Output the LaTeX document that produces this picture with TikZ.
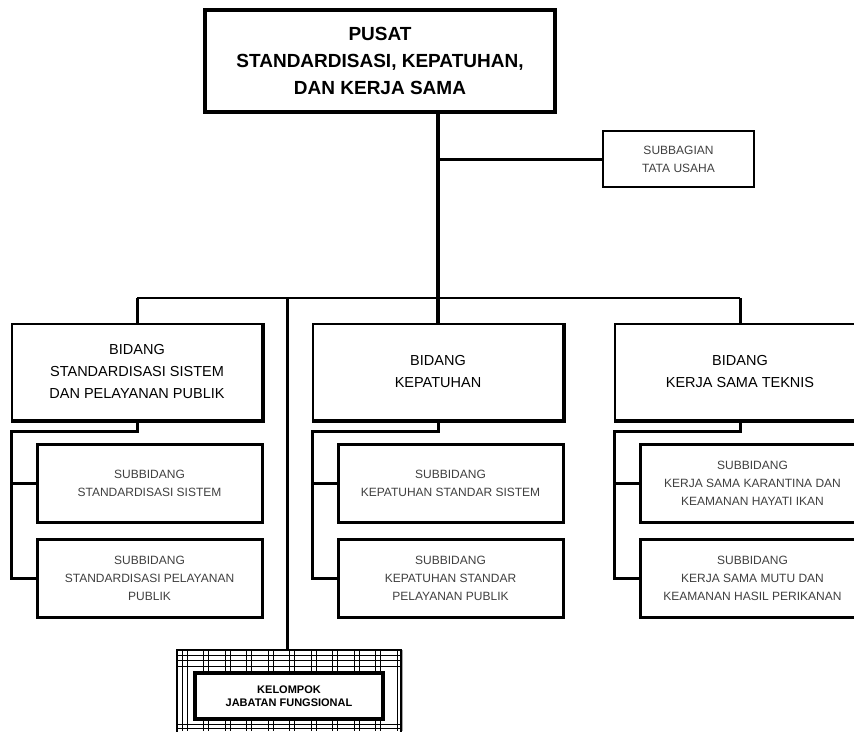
\documentclass[tikz,border=0pt]{standalone}
\usepackage{fontspec}
\setmainfont{Liberation Sans}
\usetikzlibrary{calc}

\begin{document}
\begin{tikzpicture}[
    x=1pt, y=-1pt,
    pusatbox/.style={draw, line width=3.5pt, fill=white, minimum width=350pt, minimum height=102pt, align=center, inner sep=0pt, font=\fontsize{19}{27}\selectfont\bfseries},
    bidangbox/.style={draw, line width=1.8pt, fill=white, minimum width=250pt, minimum height=96pt, align=center, inner sep=0pt, font=\fontsize{14.5}{22}\selectfont},
    subbox/.style={draw, line width=3pt, fill=white, minimum width=225pt, minimum height=78pt, align=center, inner sep=0pt, text=black!75, font=\fontsize{12}{18}\selectfont},
    tubox/.style={draw, line width=2.5pt, fill=white, minimum width=151pt, minimum height=56pt, align=center, inner sep=0pt, text=black!75, font=\fontsize{12}{18}\selectfont},
    kjfbox/.style={draw, line width=3.5pt, fill=white, minimum width=188pt, minimum height=46pt, align=center, inner sep=0pt, font=\fontsize{11}{13.5}\selectfont\bfseries},
    link/.style={line width=3pt},
    bus/.style={line width=2pt}
]
\useasboundingbox (0,0) rectangle (854,731);
\clip (0,0) rectangle (854,731);

% ---- head ----
\node[pusatbox] (pusat) at (380,61) {PUSAT\\STANDARDISASI, KEPATUHAN,\\DAN KERJA SAMA};
\node[tubox] (tu) at (678.5,159) {SUBBAGIAN\\TATA USAHA};

% ---- bidang ----
\node[bidangbox] (bid1) at (137,372) {BIDANG\\STANDARDISASI SISTEM\\DAN PELAYANAN PUBLIK};
\node[bidangbox] (bid2) at (438,372) {BIDANG\\KEPATUHAN};
\node[bidangbox] (bid3) at (740,372) {BIDANG\\KERJA SAMA TEKNIS};

% ---- subbidang ----
\node[subbox] (sub11) at (149.5,483.5) {SUBBIDANG\\STANDARDISASI SISTEM};
\node[subbox] (sub12) at (149.5,578) {SUBBIDANG\\STANDARDISASI PELAYANAN\\PUBLIK};
\node[subbox] (sub21) at (450.5,483.5) {SUBBIDANG\\KEPATUHAN STANDAR SISTEM};
\node[subbox] (sub22) at (450.5,578) {SUBBIDANG\\KEPATUHAN STANDAR\\PELAYANAN PUBLIK};
\node[subbox] (sub31) at (752.5,483.5) {SUBBIDANG\\KERJA SAMA KARANTINA DAN\\KEAMANAN HAYATI IKAN};
\node[subbox] (sub32) at (752.5,578) {SUBBIDANG\\KERJA SAMA MUTU DAN\\KEAMANAN HASIL PERIKANAN};

% ---- kelompok jabatan fungsional (hatched frame) ----
\node[draw, line width=2.5pt, minimum width=224pt, minimum height=100pt, inner sep=0pt] (kjfgrid) at (289,700) {};
\begin{scope}
  \clip (kjfgrid.south west) rectangle (kjfgrid.north east);
  \foreach \gx in {182,203.5,...,400} {
    \draw[line width=1pt] (\gx,650) -- (\gx,731);
    \draw[line width=1pt] (\gx+5,650) -- (\gx+5,731);
  }
  \foreach \gy in {655,660,666,724,728}
    \draw[line width=1pt] (177,\gy) -- (401,\gy);
\end{scope}
\node[kjfbox] (kjf) at (289,696) {KELOMPOK\\JABATAN FUNGSIONAL};

% junctions
\coordinate (trunk) at (438,298);
\coordinate (kjfj) at (287,298);

% connectors
\draw[link, line width=4pt] (pusat.south -| trunk) -- (bid2.north);
\draw[link] (tu.west -| trunk) -- (tu.west);
\draw[bus] (bid1.north |- trunk) -- (bid3.north |- trunk);
\draw[link] (bid1.north |- trunk) -- (bid1.north);
\draw[link] (bid3.north |- trunk) -- (bid3.north);
\draw[link] (kjfj) -- (kjfgrid.north -| kjfj);

\draw[link] (bid1.south) -- ++(0,11) -| (sub12.west -| bid1.west) -- (sub12.west);
\draw[link] (sub11.west -| bid1.west) -- (sub11.west);
\draw[link] (bid2.south) -- ++(0,11) -| (sub22.west -| bid2.west) -- (sub22.west);
\draw[link] (sub21.west -| bid2.west) -- (sub21.west);
\draw[link] (bid3.south) -- ++(0,11) -| (sub32.west -| bid3.west) -- (sub32.west);
\draw[link] (sub31.west -| bid3.west) -- (sub31.west);

% heavier right and bottom edges of the bidang boxes
\foreach \b in {bid1,bid2,bid3}
  \draw[line width=3.5pt] (\b.north east) -- (\b.south east) -- (\b.south west);

\end{tikzpicture}
\end{document}
